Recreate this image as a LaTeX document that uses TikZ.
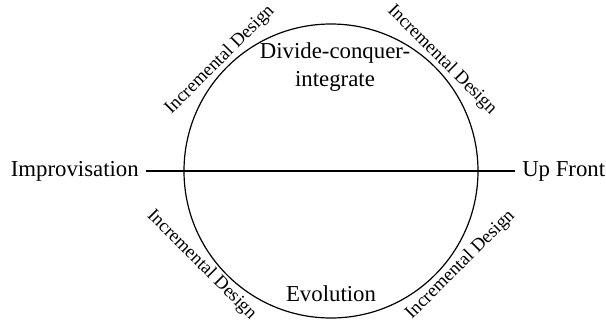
\documentclass[tikz,border=0pt]{standalone}
\usepackage{fontspec}
\setmainfont{Liberation Serif}
\begin{document}
\begin{tikzpicture}[
    x=0.5pt, y=0.5pt,
    font=\fontsize{11.4}{14}\selectfont,
    line width=0.6pt,
    incr/.style={font=\fontsize{9.3}{11}\selectfont, inner sep=1pt}
]
\useasboundingbox (-331,-152) rectangle (275,171);

% Kreis
\node[draw, circle, minimum size=147pt, inner sep=0pt] (ring) at (0,0) {};

% Achse
\node[anchor=east] (improv) at (-185,0) {Improvisation};
\node[anchor=west] (upfront) at (184,0) {Up Front};
\draw (improv) -- (upfront);

% Texte im Kreis
\node[align=center] (dci) at (4,104) {Divide-conquer-\\integrate};
\node (evo) at (0,-123) {Evolution};

% Incremental Design rundherum
\node[incr, rotate=45]  (incrUL) at (135:157) {Incremental Design};
\node[incr, rotate=-45] (incrUR) at (45:157)  {Incremental Design};
\node[incr, rotate=-45] (incrLL) at (216:160) {Incremental Design};
\node[incr, rotate=45]  (incrLR) at (-36:160) {Incremental Design};

\end{tikzpicture}
\end{document}
